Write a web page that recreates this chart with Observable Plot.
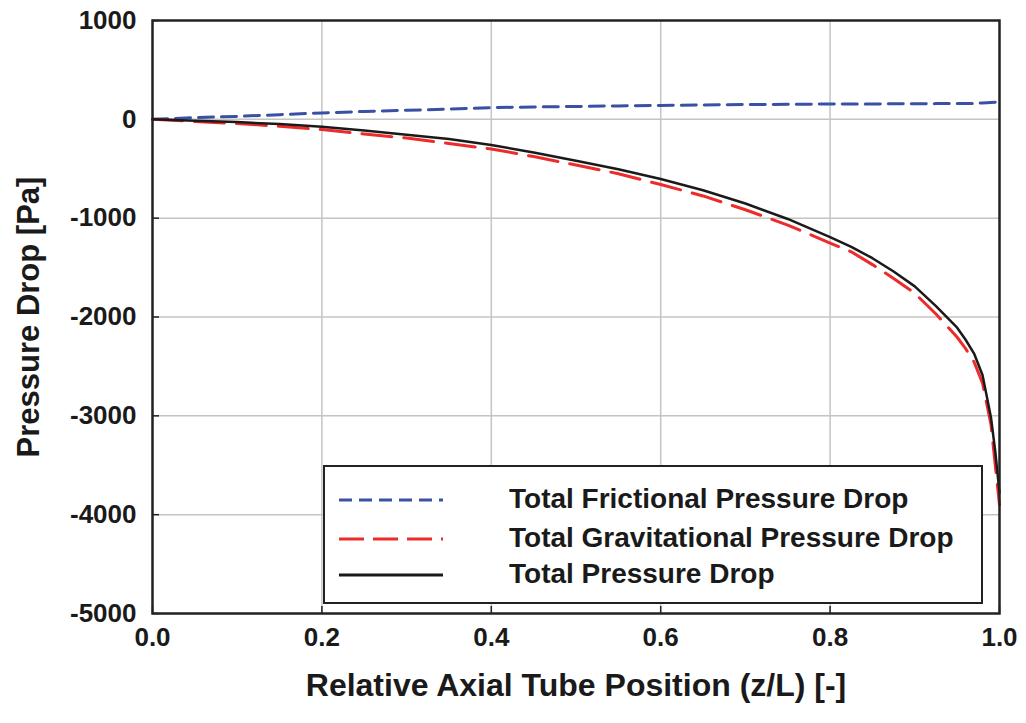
<!DOCTYPE html>
<html>
<head>
<meta charset="utf-8">
<script src="https://cdn.jsdelivr.net/npm/d3@7"></script>
<script src="https://cdn.jsdelivr.net/npm/@observablehq/plot@0.6"></script>
<style>
  html, body { margin: 0; padding: 0; background: #fff; }
  #wrap { position: relative; width: 1026px; height: 723px; font-family: "Liberation Sans", Arial, sans-serif; }
  #legend { position: absolute; left: 323px; top: 465px; width: 656px; height: 135px; border: 2px solid #222; background: #fff; }
  #legend svg { position: absolute; left: 0; top: 0; }
  .lt { position: absolute; left: 184px; font-weight: bold; font-size: 28px; color: #1a1a1a; line-height: 1; white-space: nowrap; }
</style>
</head>
<body>
<div id="wrap"></div>
<script>
// Relative axial tube position (z/L)
const positions = [0, 0.05, 0.1, 0.15, 0.2, 0.25, 0.3, 0.35, 0.4, 0.45, 0.5, 0.55, 0.6, 0.65, 0.7, 0.75, 0.8, 0.825, 0.85, 0.875, 0.9, 0.925, 0.95, 0.96, 0.97, 0.98, 0.99, 0.995, 1.0];
// Pressure drops [Pa]
const frictional = [0, 17, 30, 47, 65, 80, 92, 103, 118, 125, 130, 136, 141, 146, 150, 152, 155, 156, 156, 157, 158, 159, 159, 160, 160, 166, 171, 173, 175];
const gravitational = [0, -22, -42, -70, -104, -148, -190, -245, -300, -377, -462, -550, -660, -775, -915, -1070, -1252, -1340, -1470, -1610, -1760, -1970, -2205, -2320, -2455, -2670, -3090, -3500, -3900];
const total = [0, -14, -28, -48, -74, -112, -155, -200, -260, -335, -420, -505, -603, -717, -852, -1008, -1192, -1290, -1405, -1540, -1690, -1890, -2108, -2230, -2370, -2590, -3020, -3360, -3780];

const seriesNames = ["Total Frictional Pressure Drop", "Total Gravitational Pressure Drop", "Total Pressure Drop"];
const xTicks = [0, 0.2, 0.4, 0.6, 0.8, 1.0];
const yTicks = [1000, 0, -1000, -2000, -3000, -4000, -5000];
const xLabel = "Relative Axial Tube Position (z/L) [-]";
const yLabel = "Pressure Drop [Pa]";

const rows = (vals) => positions.map((x, i) => ({x, y: vals[i]}));

const chart = Plot.plot({
  width: 1026,
  height: 723,
  marginLeft: 152,
  marginRight: 27,
  marginTop: 20,
  marginBottom: 110,
  style: {fontFamily: "'Liberation Sans', Arial, sans-serif", fontWeight: "bold", fontSize: "26px", color: "#1a1a1a", background: "#fff"},
  x: {domain: [0, 1], ticks: xTicks},
  y: {domain: [-5000, 1000], ticks: yTicks},
  marks: [
    Plot.gridX(xTicks.slice(1, -1), {stroke: "#c4c4c4", strokeOpacity: 1, strokeWidth: 1.5}),
    Plot.gridY(yTicks.slice(1, -1), {stroke: "#c4c4c4", strokeOpacity: 1, strokeWidth: 1.5}),
    Plot.axisX(xTicks, {tickSize: -7, text: null, stroke: "#222", strokeWidth: 1.5, label: null}),
    Plot.axisX(xTicks, {tickSize: 0, tickPadding: 14, tickFormat: d3.format(".1f"), fontSize: 26, fontWeight: "bold", label: null}),
    Plot.axisY(yTicks, {tickSize: -7, text: null, stroke: "#222", strokeWidth: 1.5, label: null}),
    Plot.axisY(yTicks, {tickSize: 0, tickPadding: 16, tickFormat: d => String(d), fontSize: 26, fontWeight: "bold", label: null}),
    Plot.line(rows(frictional), {x: "x", y: "y", stroke: "#3a50a5", strokeWidth: 3, strokeDasharray: "15,8"}),
    Plot.line(rows(gravitational), {x: "x", y: "y", stroke: "#ee2b2b", strokeWidth: 3, strokeDasharray: "30,12"}),
    Plot.line(rows(total), {x: "x", y: "y", stroke: "#1a1a1a", strokeWidth: 2.5}),
    Plot.frame({stroke: "#222", strokeWidth: 2.5}),
    Plot.text([xLabel], {frameAnchor: "bottom", dy: 82, fontSize: 32, fontWeight: "bold", fill: "#1a1a1a"}),
    Plot.text([yLabel], {frameAnchor: "left", textAnchor: "middle", dx: -123, rotate: -90, fontSize: 31, fontWeight: "bold", fill: "#1a1a1a"})
  ]
});

const wrap = document.getElementById("wrap");
wrap.appendChild(chart);

// Legend overlay
const leg = document.createElement("div");
leg.id = "legend";
const legendStyles = [
  {color: "#3a50a5", dash: "13,7", width: 3},
  {color: "#ee2b2b", dash: "25,9", width: 3},
  {color: "#1a1a1a", dash: null, width: 3}
];
const rowsY = [33, 72, 108];
let svg = `<svg width="656" height="135">`;
legendStyles.forEach((s, i) => {
  svg += `<line x1="14" x2="118" y1="${rowsY[i]}" y2="${rowsY[i]}" stroke="${s.color}" stroke-width="${s.width}" ${s.dash ? `stroke-dasharray="${s.dash}"` : ""}/>`;
});
svg += `</svg>`;
leg.innerHTML = svg + seriesNames.map((n, i) => `<div class="lt" style="top:${rowsY[i] - 15}px">${n}</div>`).join("");
wrap.appendChild(leg);
</script>
</body>
</html>
